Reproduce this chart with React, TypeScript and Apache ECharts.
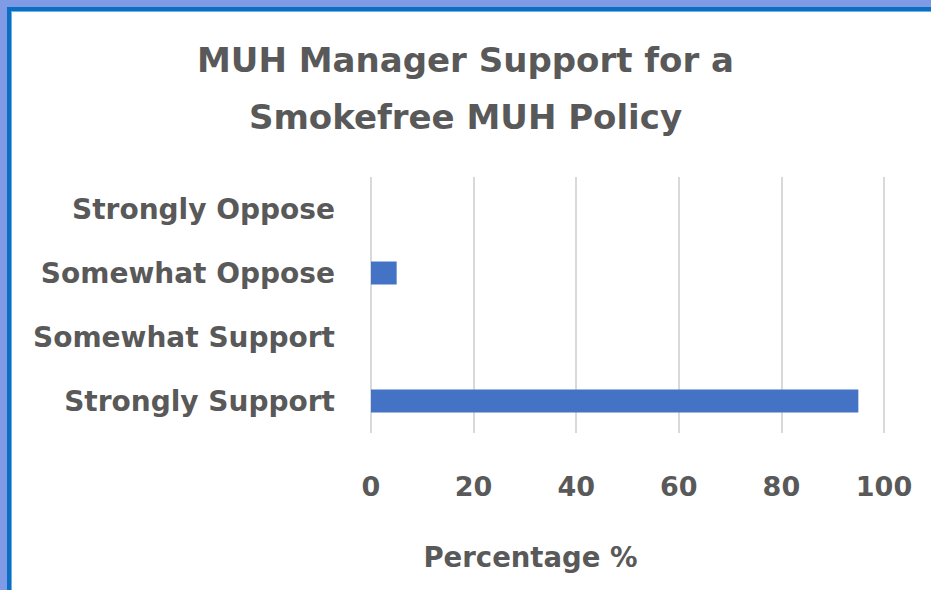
import React, { useEffect, useRef } from "react";
import * as echarts from "echarts";

const categories = ["Strongly Oppose", "Somewhat Oppose", "Somewhat Support", "Strongly Support"];
const values = [0, 5, 0, 95];
const xTicks = { min: 0, max: 100, interval: 20 };
const titleLines = ["MUH Manager Support for a", "Smokefree MUH Policy"];
const axisName = "Percentage %";

const FONT = "'DejaVu Sans', 'Open Sans', sans-serif";
const GRAY = "#595959";

export default function App() {
  const ref = useRef<HTMLDivElement>(null);
  useEffect(() => {
    document.body.style.margin = "0";
    const chart = echarts.init(ref.current!, undefined, { renderer: "svg" });
    chart.setOption({
      animation: false,
      backgroundColor: "#ffffff",
      title: {
        text: titleLines.join("\n"),
        left: "center",
        top: 31,
        padding: [0, 0, 0, 20],
        textStyle: {
          fontFamily: FONT,
          fontSize: 34,
          fontWeight: "bold",
          color: GRAY,
          lineHeight: 57,
        },
      },
      graphic: [
        { type: "rect", shape: { x: 0, y: 0, width: 931, height: 7 }, style: { fill: "#7f9be6" } },
        { type: "rect", shape: { x: 0, y: 0, width: 7, height: 590 }, style: { fill: "#7f9be6" } },
        { type: "rect", shape: { x: 7, y: 7, width: 924, height: 4 }, style: { fill: "#0a6fc2" } },
        { type: "rect", shape: { x: 7, y: 7, width: 4, height: 583 }, style: { fill: "#0a6fc2" } },
        { type: "rect", shape: { x: 11, y: 11, width: 920, height: 1 }, style: { fill: "#6fb0e8" } },
        { type: "rect", shape: { x: 11, y: 11, width: 1, height: 579 }, style: { fill: "#6fb0e8" } },
      ],
      grid: { left: 371, right: 47, top: 177, bottom: 157, containLabel: false },
      xAxis: {
        type: "value",
        min: xTicks.min,
        max: xTicks.max,
        interval: xTicks.interval,
        axisLine: { show: false },
        axisTick: { show: false },
        splitLine: { show: true, lineStyle: { color: "#d9d9d9", width: 2 } },
        axisLabel: { fontFamily: FONT, fontSize: 27, fontWeight: "bold", color: GRAY, margin: 40 },
        name: axisName,
        nameLocation: "middle",
        nameGap: 110,
        nameTextStyle: {
          fontFamily: FONT,
          fontSize: 27.5,
          fontWeight: "bold",
          color: GRAY,
          padding: [0, 194, 0, 0],
        },
      },
      yAxis: {
        type: "category",
        data: categories,
        inverse: true,
        axisLine: { show: false },
        axisTick: { show: false },
        splitLine: { show: false },
        axisLabel: { fontFamily: FONT, fontSize: 28, fontWeight: "bold", color: GRAY, margin: 36 },
      },
      series: [
        {
          type: "bar",
          data: values,
          barWidth: 23,
          itemStyle: { color: "#4472c4" },
        },
      ],
    });
    return () => chart.dispose();
  }, []);
  return <div ref={ref} style={{ position: "absolute", left: 0, top: 0, width: 931, height: 590 }} />;
}
